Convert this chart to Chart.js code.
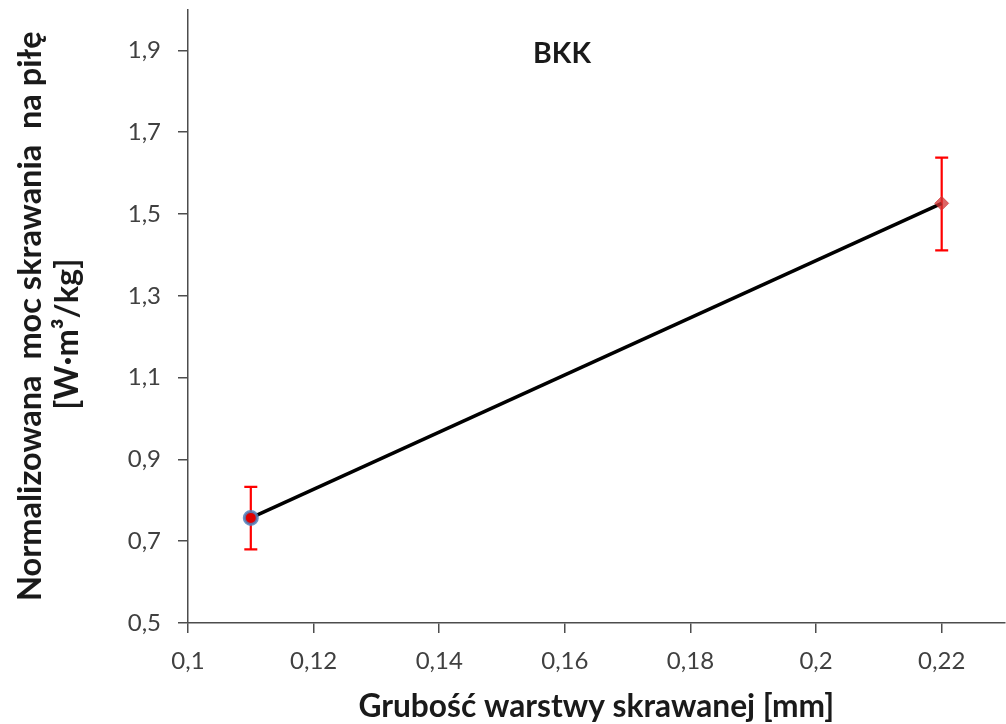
<!DOCTYPE html>
<html>
<head>
<meta charset="utf-8">
<script src="https://cdn.jsdelivr.net/npm/chart.js@4.4.1/dist/chart.umd.min.js"></script>
<style>
  html, body { margin: 0; padding: 0; background: #fff; overflow: hidden; width: 1006px; height: 724px; }
  #wrap { position: absolute; left: 0; top: 0; width: 1014px; height: 724px; }
</style>
</head>
<body>
<div id="wrap"><canvas id="c"></canvas></div>
<script>
const THICKNESS = [0.11, 0.22];
const POWER = [0.757, 1.526];
const ERR_PLUS = [0.076, 0.112];
const ERR_MINUS = [0.077, 0.115];
const X_TICKS = [0.1, 0.12, 0.14, 0.16, 0.18, 0.2, 0.22];
const Y_TICKS = [0.5, 0.7, 0.9, 1.1, 1.3, 1.5, 1.7, 1.9];
const TITLE = 'BKK';
const X_TITLE = 'Grubość warstwy skrawanej [mm]';
const Y_TITLE = ['Normalizowana  moc skrawania  na piłę', '[W·m³/kg]'];

const FONT = 'Lato, "Liberation Sans", sans-serif';
const fmt = v => String(Math.round(v * 100) / 100).replace('.', ',');

const errorBars = {
  id: 'errorBars',
  beforeDatasetsDraw(chart) {
    const ctx = chart.ctx, xs = chart.scales.x, ys = chart.scales.y;
    ctx.save();
    ctx.strokeStyle = '#ff0000';
    ctx.lineWidth = 2.2;
    THICKNESS.forEach((t, i) => {
      const px = xs.getPixelForValue(t);
      const top = ys.getPixelForValue(POWER[i] + ERR_PLUS[i]);
      const bot = ys.getPixelForValue(POWER[i] - ERR_MINUS[i]);
      ctx.beginPath();
      ctx.moveTo(px, top); ctx.lineTo(px, bot);
      ctx.moveTo(px - 6.5, top); ctx.lineTo(px + 6.5, top);
      ctx.moveTo(px - 6.5, bot); ctx.lineTo(px + 6.5, bot);
      ctx.stroke();
    });
    ctx.restore();
  }
};

const titles = {
  id: 'titles',
  afterDraw(chart) {
    const ctx = chart.ctx, a = chart.chartArea;
    ctx.save();
    ctx.fillStyle = '#1a1a1a';
    ctx.textAlign = 'center';
    ctx.textBaseline = 'middle';
    ctx.font = 'bold 28.5px ' + FONT;
    ctx.fillText(TITLE, 562, 54);
    ctx.font = 'bold 31.7px ' + FONT;
    ctx.fillText(X_TITLE, (a.left + a.right) / 2, 707);
    ctx.translate(31, (a.top + a.bottom) / 2);
    ctx.rotate(-Math.PI / 2);
    ctx.font = 'bold 32.5px ' + FONT;
    ctx.fillText(Y_TITLE[0], 0, 0);
    ctx.fillText(Y_TITLE[1], -18, 37);
    ctx.restore();
  }
};

const axisCommon = {
  border: { display: true, color: '#4d4d4d', width: 1.5 },
  grid: { display: true, drawOnChartArea: false, drawTicks: true, tickLength: 10, color: '#4d4d4d', lineWidth: 1.5 },
};

new Chart(document.getElementById('c'), {
  type: 'line',
  data: {
    datasets: [{
      data: THICKNESS.map((x, i) => ({ x, y: POWER[i] })),
      borderColor: '#000000',
      borderWidth: 3.5,
      pointStyle: ['circle', 'rectRot'],
      pointRadius: [6.5, 7],
      pointBackgroundColor: ['#e00000', 'rgba(210,50,50,0.75)'],
      pointBorderColor: ['rgba(79,129,189,0.85)', 'rgba(210,50,50,0.6)'],
      pointBorderWidth: [3, 1],
      tension: 0,
      clip: false
    }]
  },
  options: {
    responsive: true,
    maintainAspectRatio: false,
    animation: false,
    events: [],
    layout: { padding: { top: 8, right: 3, left: 0, bottom: 0 } },
    plugins: { legend: { display: false }, tooltip: { enabled: false }, title: { display: false } },
    scales: {
      x: {
        type: 'linear', min: 0.1, max: 0.23,
        ...axisCommon,
        afterBuildTicks: s => { s.ticks = X_TICKS.map(v => ({ value: v })); },
        afterFit: s => { s.height = 101; s.paddingLeft = 0; s.paddingRight = 0; },
        ticks: { color: '#404040', font: { family: FONT, size: 24 }, padding: 14, maxRotation: 0, autoSkip: false, callback: v => fmt(v) }
      },
      y: {
        type: 'linear', min: 0.5, max: 2.0,
        ...axisCommon,
        afterBuildTicks: s => { s.ticks = Y_TICKS.map(v => ({ value: v })); },
        afterFit: s => { s.width = 188; s.paddingTop = 0; s.paddingBottom = 0; },
        ticks: { color: '#404040', font: { family: FONT, size: 24 }, padding: 17, autoSkip: false, callback: v => fmt(v) }
      }
    }
  },
  plugins: [errorBars, titles]
});
</script>
</body>
</html>
